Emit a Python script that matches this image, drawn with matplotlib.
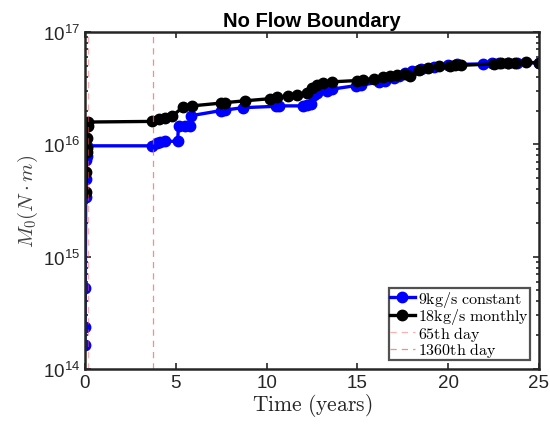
import numpy as np
import matplotlib
matplotlib.use("Agg")
import matplotlib.pyplot as plt
from matplotlib.ticker import LogLocator, FixedLocator, NullFormatter

plt.rcParams["font.family"] = "Liberation Sans"
plt.rcParams["mathtext.fontset"] = "custom"
plt.rcParams["mathtext.rm"] = "Liberation Sans"
plt.rcParams["mathtext.it"] = "Liberation Sans:italic"

# moment vs time, 9 kg/s constant injection
t_const = [0.0, 0.01, 0.02, 0.04, 0.06, 0.08, 0.10, 0.12, 3.7, 3.95, 4.15, 4.4,
           5.1, 5.15, 5.5, 5.8, 5.85, 7.5, 7.7, 8.7, 10.5, 10.7, 12.0, 12.2,
           12.45, 12.6, 12.8, 13.3, 13.6, 14.9, 15.2, 16.2, 16.5, 17.0, 17.3,
           17.6, 18.0, 18.5, 19.2, 20.0, 20.5, 21.9, 22.4, 22.8, 23.3, 23.8, 25.0]
m_const = [1.63e14, 2.35e14, 5.3e14, 3.4e15, 4.9e15, 7.2e15, 7.8e15, 9.7e15,
           9.7e15, 1.03e16, 1.05e16, 1.07e16, 1.06e16, 1.47e16, 1.47e16, 1.47e16,
           1.8e16, 2.0e16, 2.02e16, 2.12e16, 2.18e16, 2.2e16, 2.2e16, 2.25e16,
           2.3e16, 2.75e16, 2.85e16, 3.0e16, 3.1e16, 3.33e16, 3.35e16, 3.6e16,
           3.7e16, 3.9e16, 4.1e16, 4.3e16, 4.5e16, 4.7e16, 4.85e16, 5.1e16,
           5.15e16, 5.2e16, 5.25e16, 5.3e16, 5.35e16, 5.35e16, 5.3e16]

# moment vs time, 18 kg/s monthly injection
t_month = [0.05, 0.07, 0.09, 0.11, 0.13, 0.15, 0.18, 3.7, 4.1, 4.4, 4.8, 5.4,
           5.9, 7.5, 7.7, 8.8, 10.2, 10.6, 11.2, 11.7, 12.2, 12.5, 12.8, 13.1,
           13.6, 15.0, 15.3, 15.9, 16.4, 16.8, 17.2, 17.6, 17.9, 18.4, 18.9,
           19.5, 20.1, 20.4, 20.7, 22.5, 22.9, 23.3, 23.7, 24.3, 25.0]
m_month = [3.8e15, 5.7e15, 8.5e15, 9.3e15, 1.15e16, 1.45e16, 1.58e16, 1.6e16,
           1.68e16, 1.73e16, 1.78e16, 2.15e16, 2.2e16, 2.33e16, 2.35e16, 2.44e16,
           2.55e16, 2.62e16, 2.7e16, 2.75e16, 2.85e16, 3.2e16, 3.4e16, 3.5e16,
           3.6e16, 3.7e16, 3.75e16, 3.85e16, 3.95e16, 4.05e16, 4.15e16, 4.25e16,
           4.1e16, 4.6e16, 4.8e16, 5.0e16, 5.0e16, 5.05e16, 5.05e16, 5.2e16,
           5.3e16, 5.3e16, 5.35e16, 5.4e16, 5.3e16]

day_marks = [65, 1360]

fig = plt.figure(figsize=(5.5, 4.27), dpi=100)
ax = fig.add_axes([0.1545, 0.1335, 0.8255, 0.7892])

ax.plot(t_const, m_const, "-o", color="blue", lw=2.4, ms=7.5,
        label=r"$\mathrm{9kg/s\ constant}$")
ax.plot(t_month, m_month, "-o", color="black", lw=2.4, ms=7.5,
        label=r"$\mathrm{18kg/s\ monthly}$")
ax.axvline(day_marks[0] / 365, color="#ff6060", ls="--", lw=0.9, alpha=0.5,
           dashes=(5, 4), label=r"$\mathrm{65th\ day}$")
ax.axvline(day_marks[1] / 365, color="#ff6060", ls="--", lw=0.9, alpha=0.75,
           dashes=(5, 4), label=r"$\mathrm{1360th\ day}$")

ax.set_yscale("log")
ax.set_xlim(0, 25)
ax.set_ylim(1e14, 1e17)
ax.xaxis.set_major_locator(FixedLocator([0, 5, 10, 15, 20, 25]))
ax.yaxis.set_major_locator(FixedLocator([1e14, 1e15, 1e16, 1e17]))
ax.yaxis.set_minor_locator(LogLocator(base=10, subs=np.arange(2, 10)))
ax.yaxis.set_minor_formatter(NullFormatter())
ax.set_yticklabels([r"$10^{14}$", r"$10^{15}$", r"$10^{16}$", r"$10^{17}$"])

ax.tick_params(which="both", direction="in", top=True, right=True,
               labelsize=13.5, colors="#262626", width=1.2)
ax.tick_params(which="major", length=4.5)
ax.tick_params(which="minor", length=2.5)
for s in ax.spines.values():
    s.set_linewidth(1.8)
    s.set_color("#262626")

ax.set_title("No Flow Boundary", fontsize=14.5, fontweight="bold", pad=4)
ax.set_xlabel(r"$\mathrm{Time\ (years)}$", fontsize=15.5, color="#262626",
              labelpad=0, math_fontfamily="cm")
ax.set_ylabel(r"$M_0(N\cdot m)$", fontsize=15, color="#404040",
              labelpad=2, math_fontfamily="cm")

leg = ax.legend(loc="lower right", fontsize=11.5, frameon=True, fancybox=False,
                borderpad=0.05, labelspacing=-0.15, handlelength=1.6,
                handletextpad=0.2, borderaxespad=0.55)
leg.get_frame().set_edgecolor("#262626")
leg.get_frame().set_linewidth(1.6)
for txt in leg.get_texts():
    txt.set_math_fontfamily("cm")

fig.savefig("out.png", dpi=100)
